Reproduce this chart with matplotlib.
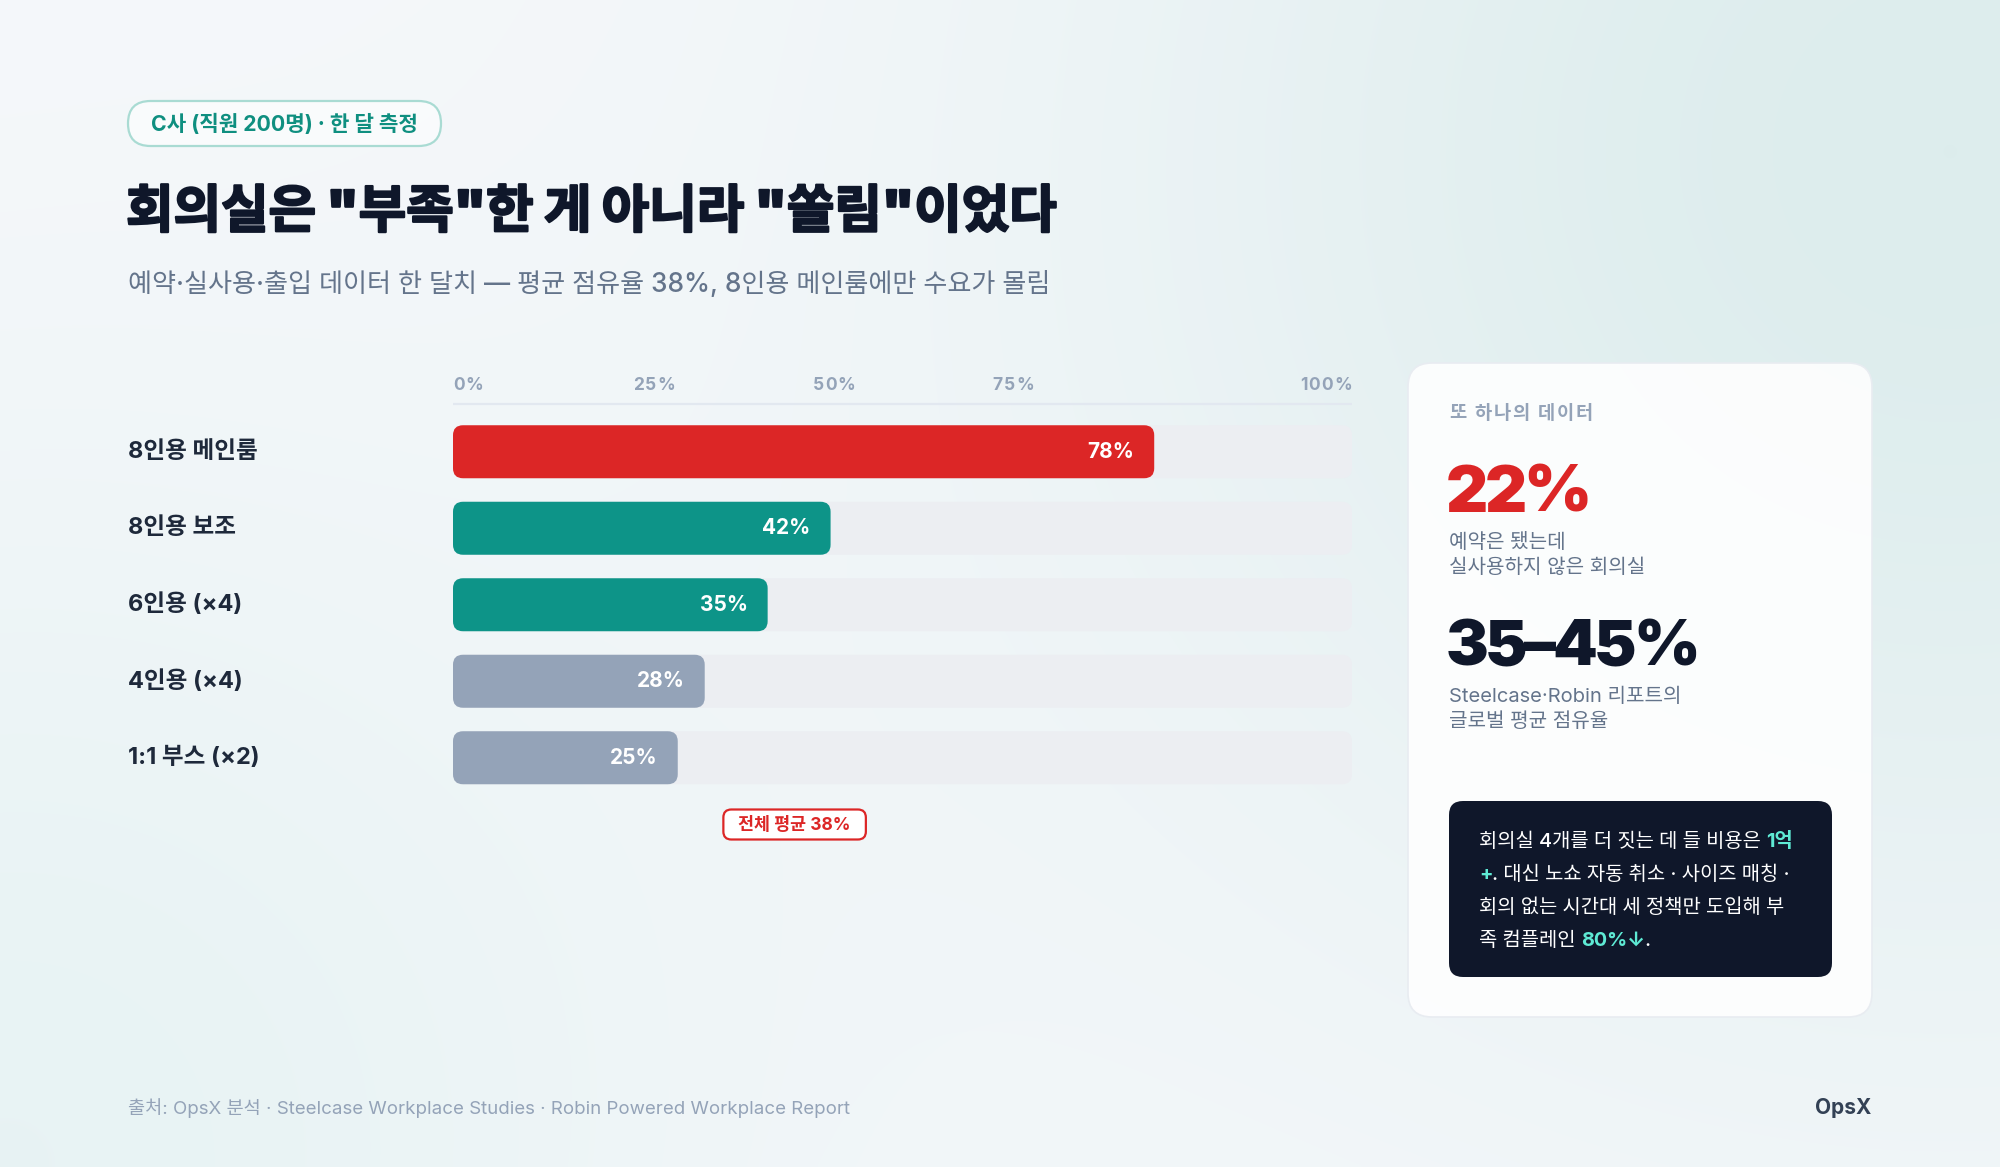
import numpy as np
import matplotlib
matplotlib.use("Agg")
import matplotlib.pyplot as plt
import matplotlib.patheffects as pe
from matplotlib.patches import FancyBboxPatch
from matplotlib.transforms import blended_transform_factory

plt.rcParams['font.family'] = ['Inter', 'Noto Sans CJK KR']

# ---------------- data ----------------
categories = ["8인용 메인룸", "8인용 보조", "6인용 (×4)", "4인용 (×4)", "1:1 부스 (×2)"]
occupancy = [78, 42, 35, 28, 25]
bar_groups = ["hot", "mid", "mid", "low", "low"]
average_value = 38
tick_values = [0, 25, 50, 75, 100]
tick_labels = ["0%", "25%", "50%", "75%", "100%"]

badge_text = "C사 (직원 200명) · 한 달 측정"
title_text = '회의실은 "부족"한 게 아니라 "쏠림"이었다'
subtitle_text = "예약·실사용·출입 데이터 한 달치 — 평균 점유율 38%, 8인용 메인룸에만 수요가 몰림"
side_kicker = "또 하나의 데이터"
stat1_value = "22%"
stat1_label = ["예약은 됐는데", "실사용하지 않은 회의실"]
stat2_value = "35–45%"
stat2_label = ["Steelcase·Robin 리포트의", "글로벌 평균 점유율"]
note_lines = [
    [("회의실 4개를 더 짓는 데 들 비용은 ", False), ("1억", True)],
    [("+", True), (". 대신 노쇼 자동 취소 · 사이즈 매칭 ·", False)],
    [("회의 없는 시간대 세 정책만 도입해 부", False)],
    [("족 컴플레인 ", False), ("80%↓", True), (".", False)],
]
source_text = "출처: OpsX 분석 · Steelcase Workplace Studies · Robin Powered Workplace Report"
brand_text = "OpsX"

# ---------------- style ----------------
COL = {"hot": "#dc2626", "mid": "#0d9488", "low": "#94a3b8"}
TRACK = "#eceef2"
DARK = "#0f172a"
SLATE = "#64748b"
MUTED = "#94a3b8"

W, H = 2000, 1167
fig = plt.figure(figsize=(W / 100, H / 100), dpi=100)

# background axes in pixel coordinates (y downward)
bg = fig.add_axes([0, 0, 1, 1])
bg.set_xlim(0, W)
bg.set_ylim(H, 0)
bg.axis("off")

yy, xx = np.mgrid[0:H:3, 0:W:3].astype(float)
base = np.array([246, 248, 251]) / 255.0
c1 = np.array([221, 237, 237]) / 255.0
c2 = np.array([232, 243, 244]) / 255.0
w1 = np.exp(-(((xx - 1950) ** 2 + (yy - 150) ** 2) / (2 * 620.0 ** 2)))
w2 = np.exp(-(((xx - 0) ** 2 + (yy - 1167) ** 2) / (2 * 520.0 ** 2)))
img = base[None, None, :] + w1[..., None] * (c1 - base) + w2[..., None] * (c2 - base)
bg.imshow(np.clip(img, 0, 1), extent=(0, W, H, 0), aspect="auto", zorder=0, interpolation="bilinear")

renderer = fig.canvas.get_renderer()


def text_width(s, **kw):
    t = bg.text(0, 0, s + "|", **kw)
    t2 = bg.text(0, 0, "|", **kw)
    w = t.get_window_extent(renderer).width - t2.get_window_extent(renderer).width
    t.remove()
    t2.remove()
    return w


def tracked_text(x, y, s, track_px, **kw):
    xcur = x
    for ch in s:
        bg.text(xcur, y, ch, ha="left", **kw)
        xcur += text_width(ch, **kw) + track_px
    return xcur


# ---------------- header ----------------
bg.add_patch(FancyBboxPatch((128, 101), 313, 45, boxstyle="round,pad=0,rounding_size=22.5",
                            fc=(1, 1, 1, 0.55), ec="#a9dbd3", lw=1.6, zorder=2))
bg.text(284.5, 124, badge_text, ha="center", va="center", fontsize=15.3, fontweight="bold",
        color="#0f8f80", zorder=3)
bg.text(126, 214, title_text, ha="left", va="center", fontsize=37.2, fontweight="black",
        color=DARK, zorder=3,
        path_effects=[pe.withStroke(linewidth=1.6, foreground=DARK)])
bg.text(128, 285, subtitle_text, ha="left", va="center", fontsize=18.8, fontweight=500,
        color=SLATE, zorder=3)

# ---------------- bar chart ----------------
x_left, x_right = 453, 1352
row_top, row_bottom = 413.5, 796
ax = fig.add_axes([x_left / W, 1 - row_bottom / H, (x_right - x_left) / W, (row_bottom - row_top) / H])
ax.set_xlim(0, 100)
n = len(categories)
ax.set_ylim(n - 0.5, -0.5)
ax.axis("off")
ax.patch.set_alpha(0)

ypos = np.arange(n)
bar_h = 53 / ((row_bottom - row_top) / n)
sx = (x_right - x_left) / 100.0
sy = (row_bottom - row_top) / n


def round_bars(container, r_px):
    for p in container.patches:
        p.set_visible(False)
        ax.add_patch(FancyBboxPatch((p.get_x(), p.get_y()), p.get_width(), p.get_height(),
                                    boxstyle=f"round,pad=0,rounding_size={r_px / sx}",
                                    mutation_aspect=sx / sy, fc=p.get_facecolor(), ec="none",
                                    zorder=p.get_zorder()))


tracks = ax.barh(ypos, [100] * n, height=bar_h, color=TRACK, zorder=1)
round_bars(tracks, 10)
bars = ax.barh(ypos, occupancy, height=bar_h, color=[COL[g] for g in bar_groups], zorder=2)
round_bars(bars, 10)

for i, v in enumerate(occupancy):
    ax.annotate(f"{v}%", xy=(v, i), xytext=(-20, 0), textcoords="offset pixels",
                ha="right", va="center", color="white", fontweight="bold", fontsize=15, zorder=4)

trans_lbl = blended_transform_factory(bg.transData, ax.transData)
for i, c in enumerate(categories):
    ax.text(128, i, c, transform=trans_lbl, ha="left", va="center", fontsize=17,
            fontweight="bold", color="#1e293b")

# tick labels: a row of equal columns, text left-aligned, last one right-aligned
tick_kw = dict(fontsize=12.5, fontweight="bold", color=MUTED, va="center")
x0 = ax.transData.transform((tick_values[0], 0))[0]
x1 = ax.transData.transform((tick_values[-1], 0))[0]
ncol = len(tick_labels)
for k, t in enumerate(tick_labels):
    if k < ncol - 1:
        tracked_text(x0 + (x1 - x0) * k / ncol, 385, t, 1.2, zorder=3, **tick_kw)
    else:
        wt = sum(text_width(ch, **tick_kw) + 1.2 for ch in t) - 1.2
        tracked_text(x1 - wt, 385, t, 1.2, zorder=3, **tick_kw)
bg.plot([x0, x1], [404, 404], color="#e2e8f0", lw=1.6, zorder=2, solid_capstyle="butt")

# average badge
avg_x = ax.transData.transform((average_value, 0))[0]
avg_kw = dict(fontsize=12.5, fontweight="bold", color="#dc2626")
avg_label = f"전체 평균 {average_value}%"
aw = text_width(avg_label, **avg_kw)
bw = aw + 30
bg.add_patch(FancyBboxPatch((avg_x - bw / 2, 809.5), bw, 30, boxstyle="round,pad=0,rounding_size=8",
                            fc="white", ec="#dc2626", lw=1.6, zorder=3))
bg.text(avg_x, 825, avg_label, ha="center", va="center", zorder=4, **avg_kw)

# ---------------- side card ----------------
bg.add_patch(FancyBboxPatch((1408, 363), 464, 654, boxstyle="round,pad=0,rounding_size=24",
                            fc=(1, 1, 1, 0.88), ec="#e8ecf1", lw=1.2, zorder=2))
tracked_text(1449, 414, side_kicker, 1.8, va="center", fontsize=13.5, fontweight="bold",
             color=MUTED, zorder=3)
tracked_text(1446, 512, stat1_value, -3.5, va="baseline", fontsize=47, fontweight="black",
             color="#dc2626", zorder=3)
for k, s in enumerate(stat1_label):
    bg.text(1449, 543 + 25 * k, s, ha="left", va="center", fontsize=14.5, color=SLATE, zorder=3)
tracked_text(1446, 665, stat2_value, -3.5, va="baseline", fontsize=46, fontweight="black",
             color=DARK, zorder=3)
for k, s in enumerate(stat2_label):
    bg.text(1449, 697 + 24.5 * k, s, ha="left", va="center", fontsize=14.5, color=SLATE, zorder=3)

# dark note box
bg.add_patch(FancyBboxPatch((1449, 801), 383, 176, boxstyle="round,pad=0,rounding_size=14",
                            fc=DARK, ec="none", zorder=3))
for li, segs in enumerate(note_lines):
    xcur = 1479
    ybase = 847 + 33 * li
    for s, hi in segs:
        kw = dict(fontsize=14.3, fontweight="bold" if hi else 500,
                  color="#5eead4" if hi else "white")
        bg.text(xcur, ybase, s, ha="left", va="baseline", zorder=4, **kw)
        xcur += text_width(s, **kw)

# ---------------- footer ----------------
bg.text(128, 1108, source_text, ha="left", va="center", fontsize=13.45, color=MUTED, zorder=3)
bg.text(1871, 1108, brand_text, ha="right", va="center", fontsize=15, fontweight="bold",
        color="#334155", zorder=3)

fig.savefig("out.png", dpi=100)
